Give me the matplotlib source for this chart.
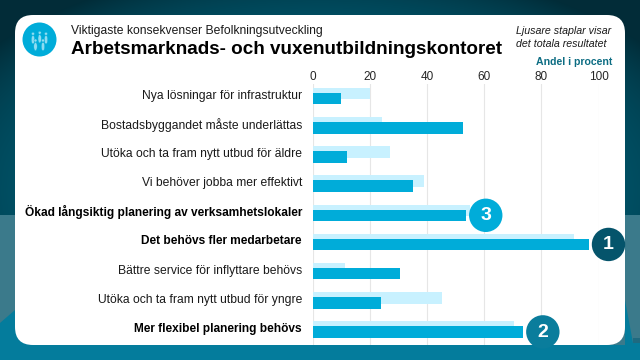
#!/usr/bin/env python3
"""Andel i procent, konsekvenser av befolkningsutveckling."""

import numpy as np
import matplotlib
matplotlib.use("Agg")
import matplotlib.pyplot as plt
from matplotlib.patches import Circle, Ellipse, FancyBboxPatch, Polygon, Rectangle

plt.rcParams["font.family"] = ["Liberation Sans", "DejaVu Sans"]

categories = ["Nya lösningar för infrastruktur",
              "Bostadsbyggandet måste underlättas",
              "Utöka och ta fram nytt utbud för äldre",
              "Vi behöver jobba mer effektivt",
              "Ökad långsiktig planering av verksamhetslokaler",
              "Det behövs fler medarbetare",
              "Bättre service för inflyttare behövs",
              "Utöka och ta fram nytt utbud för yngre",
              "Mer flexibel planering behövs"]
bold_rows = [4, 5, 8]
unit_values = [9.7, 52.7, 12, 35, 53.5, 96.5, 30.5, 23.7, 73.5]
total_values = [20, 24.3, 27, 39, 55, 91.3, 11.3, 45.3, 70.5]
ticks = [0, 20, 40, 60, 80, 100]
# rank badges: row, rank, colour
badges = [(5, "1", "#05546b"), (8, "2", "#0a7d9c"), (4, "3", "#00acd9")]

DARK = "#00acd9"
LIGHT = "#c8f1ff"

fig = plt.figure(figsize=(6.4, 3.6), dpi=100)

# page in pixel coordinates
bg = fig.add_axes([0, 0, 1, 1])
bg.set_xlim(0, 640)
bg.set_ylim(360, 0)
bg.axis("off")

yy, xx = np.mgrid[0:360, 0:640]
dist = np.clip(np.sqrt(((xx - 320) / 420.0) ** 2 + ((yy - 190) / 230.0) ** 2), 0, 1)
c_in = np.array([0, 92, 115]) / 255
c_out = np.array([2, 44, 56]) / 255
grad = c_in + (c_out - c_in) * dist[..., None] ** 4
bg.imshow(grad, extent=(0, 640, 360, 0), aspect="auto", zorder=0)

bg.add_patch(Rectangle((0, 215), 640, 145, color="#3b7a8b", lw=0, zorder=1))
bg.add_patch(Rectangle((633, 338), 7, 5, color="#1f6a80", lw=0, zorder=1.5))
bg.add_patch(Polygon([(0, 360), (0, 323), (15, 310), (40, 345), (625, 345),
                      (625, 300), (633, 343), (640, 343), (640, 360)],
                     closed=True, color="#047c9c", lw=0, zorder=2))
bg.add_patch(FancyBboxPatch((15, 15), 610, 330,
                            boxstyle="round,pad=0,rounding_size=18", lw=0, fc="white", zorder=3))

# people icon, back row first
bg.add_patch(Circle((39.5, 39.5), 17, color=DARK, lw=0, zorder=4))
for px, py in [(33, 33.7), (39.7, 32.7), (46, 33.7), (35.5, 40.5), (43, 40.5)]:
    bg.add_patch(Circle((px, py), 1.5, fc="#8fdcf1", ec=DARK, lw=0.3, zorder=5))
    bg.add_patch(Ellipse((px, py + 6), 3.4, 8.5, fc="#8fdcf1", ec=DARK, lw=0.3, zorder=5))

bg.text(71, 31, "Viktigaste konsekvenser Befolkningsutveckling", fontsize=8.75,
        color="#1a1a1a", va="center", ha="left", zorder=5)
bg.text(71, 49, "Arbetsmarknads- och vuxenutbildningskontoret", fontsize=13.6,
        fontweight="bold", color="black", va="center", ha="left", zorder=5)
bg.text(516, 31, "Ljusare staplar visar", fontsize=7.65, style="italic",
        color="#1a1a1a", va="center", ha="left", zorder=5)
bg.text(516, 44, "det totala resultatet", fontsize=7.65, style="italic",
        color="#1a1a1a", va="center", ha="left", zorder=5)
bg.text(612, 62, "Andel i procent", fontsize=7.6, fontweight="bold",
        color="#0d6d83", va="center", ha="right", zorder=5)

# main chart, placed so 0..100 falls on px 313..598.5
ax = fig.add_axes([313 / 640, 1 - 345 / 360, 285.5 / 640, (345 - 84) / 360])
ax.patch.set_alpha(0)
ax.set_xlim(0, 100)
ax.set_ylim(345, 84)
row_y = 98.7 + 29.15 * np.arange(len(categories))
ax.barh(row_y - 5, total_values, height=11.5, color=LIGHT, lw=0, zorder=2)
ax.barh(row_y, unit_values, height=11.5, color=DARK, lw=0, zorder=3)

ax.set_xticks(ticks)
ax.xaxis.tick_top()
ax.tick_params(axis="x", length=0, pad=1, labelsize=8.5, labelcolor="#262626")
ax.grid(axis="x", color="#e6e6e6", lw=0.8, zorder=1)
ax.set_axisbelow(True)
ax.set_yticks(row_y - 4.5)
ax.set_yticklabels(categories, fontsize=8.75, color="#1a1a1a")
ax.tick_params(axis="y", length=0, pad=8)
for i in bold_rows:
    ax.get_yticklabels()[i].set_fontweight("bold")
    ax.get_yticklabels()[i].set_fontsize(8.6)
    ax.get_yticklabels()[i].set_color("black")
for s in ax.spines.values():
    s.set_visible(False)

# rank badges sit on the page axes, just right of their bars
fg = fig.add_axes([0, 0, 1, 1])
fg.set_xlim(0, 640)
fg.set_ylim(360, 0)
fg.axis("off")
fg.patch.set_alpha(0)
for row, rank, col in badges:
    cx = 313 + unit_values[row] * 2.855 + 20
    cy = row_y[row]
    fg.add_patch(Circle((cx, cy), 16.7, color=col, lw=0, zorder=5))
    fg.text(cx, cy + 0.5, rank, color="white", fontsize=14, fontweight="bold",
            ha="center", va="center", zorder=6)

fig.savefig("out.png", dpi=100)
